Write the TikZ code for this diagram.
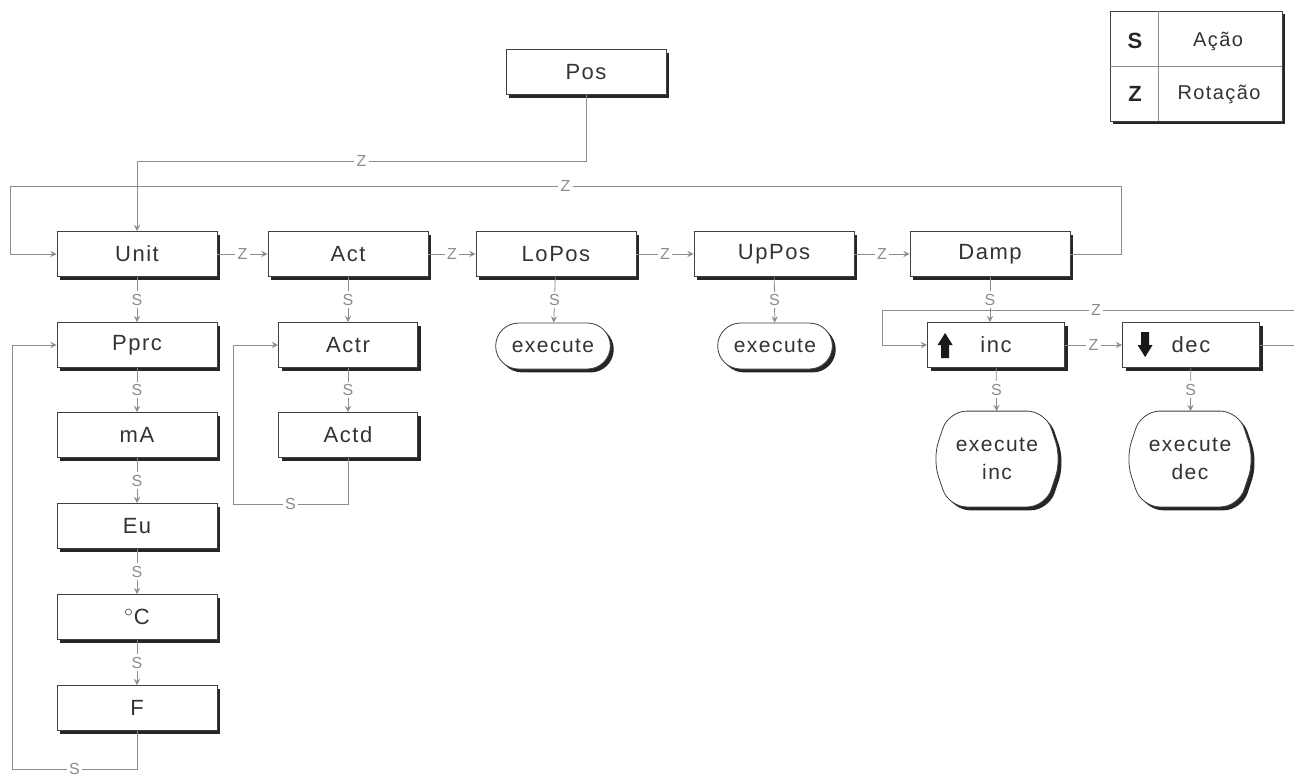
\documentclass[tikz,border=0pt]{standalone}
\usepackage{fontspec}
\setmainfont{Liberation Sans}[LetterSpace=7]
\usetikzlibrary{shapes.misc,shadows,calc,backgrounds}

\begin{document}
\begin{tikzpicture}[
    x=0.5pt, y=-0.5pt,
    menu/.style={rectangle, draw=black!75, fill=white, minimum width=80pt, minimum height=22.5pt, text centered, text=black!80, font=\fontsize{11}{13}\selectfont, drop shadow={shadow xshift=1.7pt, shadow yshift=-1.7pt, fill=black!85, opacity=1}},
    submenu/.style={menu, minimum width=69.5pt},
    keymenu/.style={menu, minimum width=68.5pt},
    action/.style={rounded rectangle, draw=black!75, fill=white, minimum width=64pt, minimum height=23pt, text centered, text=black!80, font=\fontsize{10.5}{13}\selectfont, drop shadow={shadow xshift=1.7pt, shadow yshift=-1.7pt, fill=black!85, opacity=1}},
    bigaction/.style={rectangle, minimum width=64pt, minimum height=47.5pt, align=center, text=black!80, font=\fontsize{10.5}{14}\selectfont},
    barrel/.style={draw=black!75, fill=white, rounded corners=9pt, drop shadow={shadow xshift=1.7pt, shadow yshift=-1.7pt, fill=black!85, opacity=1}},
    link/.style={->, >=stealth, draw=black!45},
    lbl/.style={fill=white, inner sep=1.2pt, text=black!45, font=\fontsize{8}{9}\selectfont}
]
\useasboundingbox (0,0) rectangle (1294,778);

% Top menu
\node[menu] (pos) at (586,72) {Pos};

% Main row
\node[menu] (unit) at (137,254) {Unit};
\node[menu] (act) at (348,254) {Act};
\node[menu] (lopos) at (556,254) {LoPos};
\node[menu] (uppos) at (774,254) {UpPos};
\node[menu] (damp) at (990,254) {Damp};

% Unit column
\node[menu] (pprc) at (137,345) {Pprc};
\node[menu] (ma) at (137,435) {mA};
\node[menu] (eu) at (137,526) {Eu};
\node[menu] (degc) at (137,617) {$^{\circ}$C};
\node[menu] (f) at (137,708) {F};

% Act column
\node[submenu] (actr) at (348,345) {Actr};
\node[submenu] (actd) at (348,435) {Actd};

% Position actions
\node[action] (exlo) at (553,346) {execute};
\node[action] (exup) at (775,346) {execute};

% Damping keys
\node[keymenu] (inc) at (996,345) {inc};
\node[keymenu] (dec) at (1191,345) {dec};
\node[bigaction] (exinc) at (997,459) {execute\\inc};
\node[bigaction] (exdec) at (1190,459) {execute\\dec};

% Barrel outlines behind the execute texts
\begin{scope}[on background layer]
\draw[barrel] ($(exinc.north west)+(16,0)$) -- ($(exinc.north east)+(-16,0)$) -- (exinc.east) -- ($(exinc.south east)+(-16,0)$) -- ($(exinc.south west)+(16,0)$) -- (exinc.west) -- cycle;
\draw[barrel] ($(exdec.north west)+(16,0)$) -- ($(exdec.north east)+(-16,0)$) -- (exdec.east) -- ($(exdec.south east)+(-16,0)$) -- ($(exdec.south west)+(16,0)$) -- (exdec.west) -- cycle;
\end{scope}

% Key arrows
\fill[black!90] ($(inc.west)+(18,-12)$) -- ++(7.5,12) -- ++(-3.5,0) -- ++(0,13) -- ++(-8,0) -- ++(0,-13) -- ++(-3.5,0) -- cycle;
\fill[black!90] ($(dec.west)+(23,12)$) -- ++(7.5,-12) -- ++(-3.5,0) -- ++(0,-13) -- ++(-8,0) -- ++(0,13) -- ++(-3.5,0) -- cycle;

% Legend
\node[rectangle, draw=black!75, fill=white, minimum width=86pt, minimum height=55pt, drop shadow={shadow xshift=1.7pt, shadow yshift=-1.7pt, fill=black!85, opacity=1}] (legend) at (1196,66) {};
\draw[black!45] (legend.north -| 1158,0) -- (legend.south -| 1158,0);
\draw[black!45] (legend.west) -- (legend.east);
\node[font=\fontsize{11}{13}\bfseries, text=black!85] (legs) at (1135,41) {S};
\node[font=\fontsize{11}{13}\bfseries, text=black!85] (legz) at (1135,94) {Z};
\node[font=\fontsize{10}{12}\selectfont, text=black!80] (legact) at (1218,41) {Ação};
\node[font=\fontsize{10}{12}\selectfont, text=black!80] (legrot) at (1219,94) {Rotação};

% Z arrows
\draw[link] (pos.south) -- (pos.south |- 0,161) -- node[lbl]{Z} (unit.north |- 0,161) -- (unit.north);
\draw[link] (damp.east) -- (damp.east -| 1121,0) -- (1121,186) -- node[lbl]{Z} (10,186) -- (unit.west -| 10,0) -- (unit.west);
\draw[link] (unit) -- node[lbl]{Z} (act);
\draw[link] (act) -- node[lbl]{Z} (lopos);
\draw[link] (lopos) -- node[lbl]{Z} (uppos);
\draw[link] (uppos) -- node[lbl]{Z} (damp);
\draw[link] (inc) -- node[lbl]{Z} (dec);
\draw[link] (dec.east) -- ++(50,0) -- ++(0,-35) -- node[lbl]{Z} (882,310) -- (inc.west -| 882,0) -- (inc.west);

% S arrows
\draw[link] (unit) -- node[lbl]{S} (pprc);
\draw[link] (pprc) -- node[lbl]{S} (ma);
\draw[link] (ma) -- node[lbl]{S} (eu);
\draw[link] (eu) -- node[lbl]{S} (degc);
\draw[link] (degc) -- node[lbl]{S} (f);
\draw[link] (f.south) -- (f.south |- 0,769) -- node[lbl]{S} (12,769) -- (pprc.west -| 12,0) -- (pprc.west);
\draw[link] (act) -- node[lbl]{S} (actr);
\draw[link] (actr) -- node[lbl]{S} (actd);
\draw[link] (actd.south) -- (actd.south |- 0,504) -- node[lbl]{S} (233,504) -- (actr.west -| 233,0) -- (actr.west);
\draw[link] (lopos) -- node[lbl]{S} (exlo);
\draw[link] (uppos) -- node[lbl]{S} (exup);
\draw[link] (damp.south) -- node[lbl]{S} (damp.south |- inc.north);
\draw[link] (inc) -- node[lbl]{S} (exinc);
\draw[link] (dec) -- node[lbl]{S} (exdec);

\end{tikzpicture}
\end{document}
